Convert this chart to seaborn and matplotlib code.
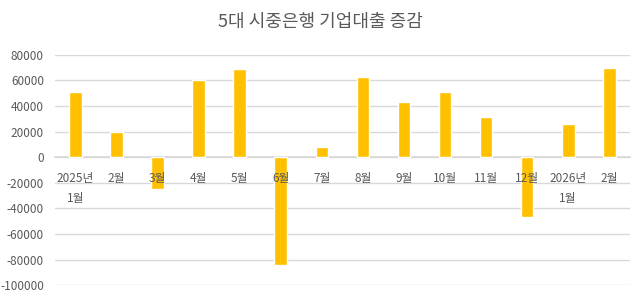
import matplotlib
matplotlib.use("Agg")
import matplotlib.pyplot as plt
import seaborn as sns
import pandas as pd

categories = ["2025년\n1월", "2월", "3월", "4월", "5월", "6월", "7월", "8월",
              "9월", "10월", "11월", "12월", "2026년\n1월", "2월"]
values = [51000, 20000, -25000, 60500, 69000, -84500, 8300, 62500,
          42700, 51000, 31500, -47000, 26000, 69800]
title = "5대 시중은행 기업대출 증감"
yticks = list(range(-100000, 80001, 20000))

sns.set_theme(style="white")
plt.rcParams["font.family"] = ["Noto Sans CJK KR", "DejaVu Sans"]

df = pd.DataFrame({"cat": range(len(categories)), "val": values})

fig = plt.figure(figsize=(6.4, 2.97), dpi=100)
ax = fig.add_axes([0.086, 0.0394, 0.898, 0.7766])
sns.barplot(data=df, x="cat", y="val", color="#FFC000", width=0.31,
            saturation=1, ax=ax, order=list(range(len(categories))))

for s in ["left", "right", "top"]:
    ax.spines[s].set_visible(False)
ax.spines["bottom"].set_position(("data", 0))
ax.spines["bottom"].set_color("#D9D9D9")
ax.spines["bottom"].set_zorder(0.5)

ax.set_ylim(-100000, 80000)
ax.set_xlim(-0.5, len(categories) - 0.5)
ax.set_yticks(yticks)
ax.set_yticklabels([str(v) for v in yticks])
ax.set_xticks(range(len(categories)))
ax.set_xticklabels([])
for i, lab in enumerate(categories):
    ax.annotate(lab, (i, 0), xytext=(0, -10.4), textcoords="offset points",
                ha="center", va="top", fontsize=8.5, color="#595959",
                linespacing=1.75, zorder=5)
ax.set_xlabel("")
ax.set_ylabel("")
ax.grid(axis="y", color="#D9D9D9", linewidth=1)
ax.set_axisbelow(True)
ax.tick_params(axis="x", length=0)
ax.tick_params(axis="y", length=0, pad=8, labelsize=8.5, labelcolor="#595959")

fig.text(0.5, 0.925, title, ha="center", va="center", fontsize=13,
         color="#595959")

fig.savefig("out.png", dpi=100)
